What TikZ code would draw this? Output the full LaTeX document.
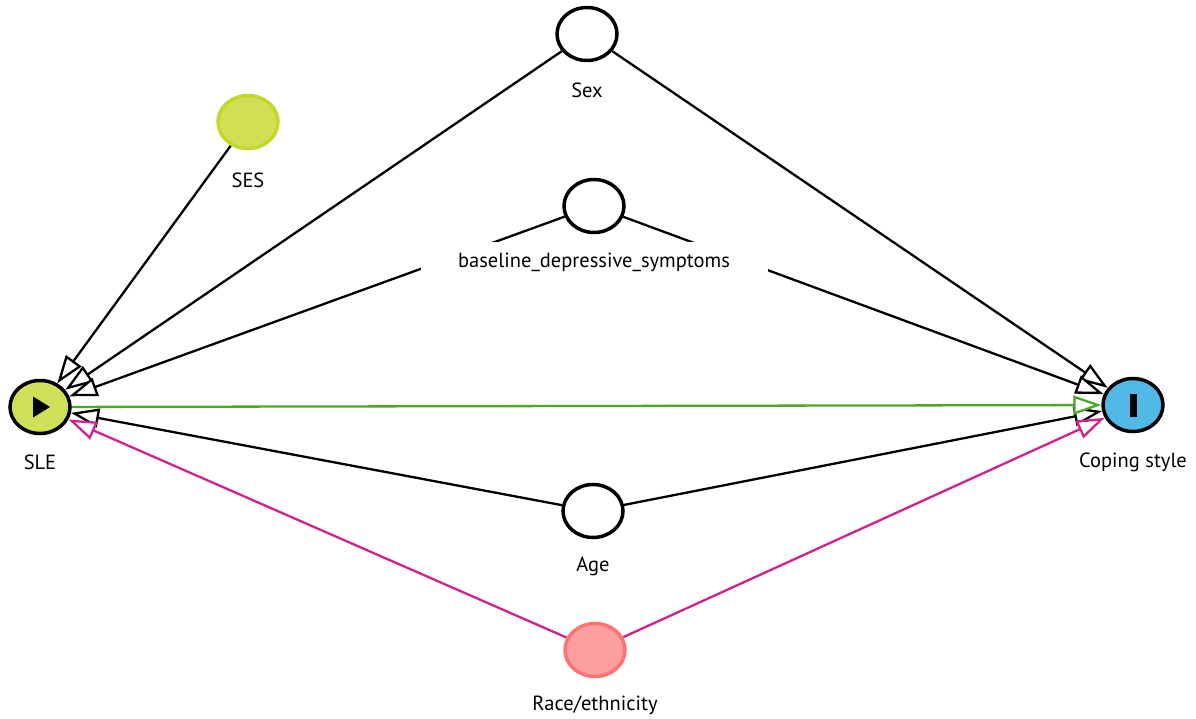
\documentclass[tikz,border=0pt]{standalone}
\usepackage{fontspec}
\setmainfont{PT Sans}
\usetikzlibrary{shapes.geometric,arrows.meta}
\definecolor{sesfill}{HTML}{D2DF55}
\definecolor{sesline}{HTML}{C3D82B}
\definecolor{exposure}{HTML}{CFDF57}
\definecolor{outcome}{HTML}{52B8E6}
\definecolor{racefill}{HTML}{FF9E9E}
\definecolor{raceline}{HTML}{FF7272}
\definecolor{causal}{HTML}{4CA826}
\definecolor{biasing}{HTML}{D0218F}
\pgfdeclarelayer{edges}
\pgfsetlayers{edges,main}
\begin{document}
\begin{tikzpicture}[x=1pt,y=-1pt,
  var/.style={ellipse, draw=black, line width=3.5pt, fill=white,
    minimum width=60pt, minimum height=53pt, inner sep=0pt},
  lbl/.style={font=\fontsize{20.5}{22}\selectfont, inner sep=1pt},
  arc/.style={line width=2.3pt,
    -{Triangle[open, length=28pt, width=19pt, fill=white]}},
]
\useasboundingbox (0,0) rectangle (1196,719);

% variables
\node[var] (sex) at (587,34) {};
\node[var, fill=sesfill, draw=sesline] (ses) at (248,122) {};
\node[var] (dep) at (594,206) {};
\node[var, fill=exposure] (sle) at (40,407) {};
\node[var, fill=outcome] (cop) at (1133,405) {};
\node[var] (age) at (593,511) {};
\node[var, fill=racefill, draw=raceline] (race) at (595,650) {};

% exposure and outcome marks
\fill ([shift={(-7,-10.5)}]sle.center) -- ([shift={(-7,10.5)}]sle.center)
  -- ([shift={(10,0)}]sle.center) -- cycle;
\fill ([shift={(-3.5,-11.5)}]cop.center) rectangle ([shift={(3.5,11.5)}]cop.center);

% arrows
\begin{pgfonlayer}{edges}
\draw[arc] (ses) -- (sle);
\draw[arc] (sex) -- (sle);
\draw[arc] (sex) -- (cop);
\draw[arc] (dep) -- (sle);
\draw[arc] (dep) -- (cop);
\draw[arc] (age) -- (sle);
\draw[arc] (age) -- (cop);
\draw[arc, draw=causal] (sle) -- (cop);
\draw[arc, draw=biasing] (race) -- (sle);
\draw[arc, draw=biasing] (race) -- (cop);
\end{pgfonlayer}

% labels
\node[lbl] (sexl) at (587,90) {Sex};
\node[lbl] (sesl) at (248,180) {SES};
\node[lbl, fill=white, minimum width=347pt, minimum height=40pt] (depl) at (594,262)
  {baseline\_depressive\_symptoms};
\node[lbl] (slel) at (40,462) {SLE};
\node[lbl] (copl) at (1133,462) {Coping style};
\node[lbl] (agel) at (593,566) {Age};
\node[lbl] (racel) at (595,705) {Race/ethnicity};
\end{tikzpicture}
\end{document}
